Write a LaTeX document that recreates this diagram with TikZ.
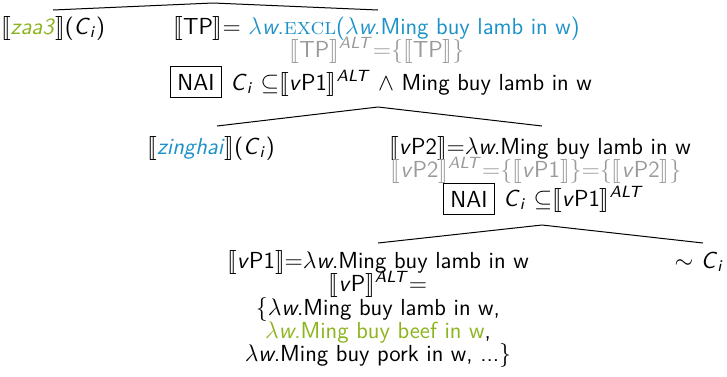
\documentclass[tikz,border=0pt]{standalone}
\usepackage{stmaryrd}
\usepackage{amssymb}
\definecolor{myblue}{HTML}{1E92C8}
\definecolor{mygreen}{HTML}{8CB41E}
\definecolor{mygray}{HTML}{9A9A9A}
\newcommand{\LB}{$\llbracket$}
\newcommand{\RB}{$\rrbracket$}
\newcommand{\Ci}{\textit{C}\textsubscript{\textit{i}}}
\newcommand{\ALT}{\textsuperscript{\textit{ALT}}}
\newcommand{\lamw}{$\lambda$\textit{w}}
\newcommand{\excl}{\textrm{\textsc{excl}}}
\newcommand{\EQ}{${=}$}
\begin{document}
\begin{tikzpicture}[x=0.5pt,y=-0.5pt,
  every node/.style={font=\sffamily\fontsize{11.6}{13}\selectfont, inner sep=0pt},
  txt/.style={anchor=base},
  nai/.style={draw, inner xsep=3.6pt, inner ysep=3.6pt, line width=0.5pt},
  branch/.style={line width=0.5pt}]
\useasboundingbox (0,0) rectangle (727,376);

% top level
\node[txt] (zaa3) at (53,34) {\LB\textcolor{mygreen}{\textit{zaa3}}\RB(\Ci)};
\node[txt] (tp1) at (376.5,34) {\LB TP\RB\EQ\ \textcolor{myblue}{\lamw.\excl(\lamw.Ming buy lamb in w)}};
\node[txt, text=mygray] (tp2) at (377,57) {\LB TP\RB\ALT\EQ$\{$\LB TP\RB$\}$};
\node[nai] (nai1) at (196,82) {NAI};
\node[txt, anchor=base west] (tp3) at (230,90) {\Ci\ $\subseteq$\LB\textit{v}P1\RB\ALT\ $\wedge$ Ming buy lamb in w};

% second level
\node[txt] (zinghai) at (211,154) {\LB\textcolor{myblue}{\textit{zinghai}}\RB(\Ci)};
\node[txt] (vp2a) at (540,154) {\LB\textit{v}P2\RB\EQ\lamw.Ming buy lamb in w};
\node[txt, text=mygray] (vp2b) at (536,177) {\LB\textit{v}P2\RB\ALT\EQ$\{$\LB\textit{v}P1\RB$\}$\EQ$\{$\LB\textit{v}P2\RB$\}$};
\node[nai] (nai2) at (469,199) {NAI};
\node[txt, anchor=base west] (vp2c) at (503,206) {\Ci\ $\subseteq$\LB\textit{v}P1\RB\ALT};

% third level
\node[txt] (vp1a) at (378,268) {\LB\textit{v}P1\RB\EQ\lamw.Ming buy lamb in w};
\node[txt] (vp1b) at (378,291) {\LB\textit{v}P\RB\ALT\EQ};
\node[txt] (vp1c) at (378,315) {$\{$\lamw.Ming buy lamb in w,};
\node[txt] (vp1d) at (378,338) {\textcolor{mygreen}{\lamw.Ming buy beef in w},};
\node[txt] (vp1e) at (378,361) {\lamw.Ming buy pork in w, ...$\}$};
\node[txt] (tilde) at (699,268) {$\sim$ \Ci};

% branches
\coordinate (ap1) at (213,3);
\coordinate (l1) at (53,10);
\coordinate (r1) at (378,10);
\coordinate (ap2) at (378,107);
\coordinate (l2) at (217,126);
\coordinate (r2) at (542,126);
\coordinate (ap3) at (542,225);
\coordinate (l3) at (378,243);
\coordinate (r3) at (703,243);
\draw[branch] (l1) -- (ap1) -- (r1);
\draw[branch] (l2) -- (ap2) -- (r2);
\draw[branch] (l3) -- (ap3) -- (r3);
\end{tikzpicture}
\end{document}
